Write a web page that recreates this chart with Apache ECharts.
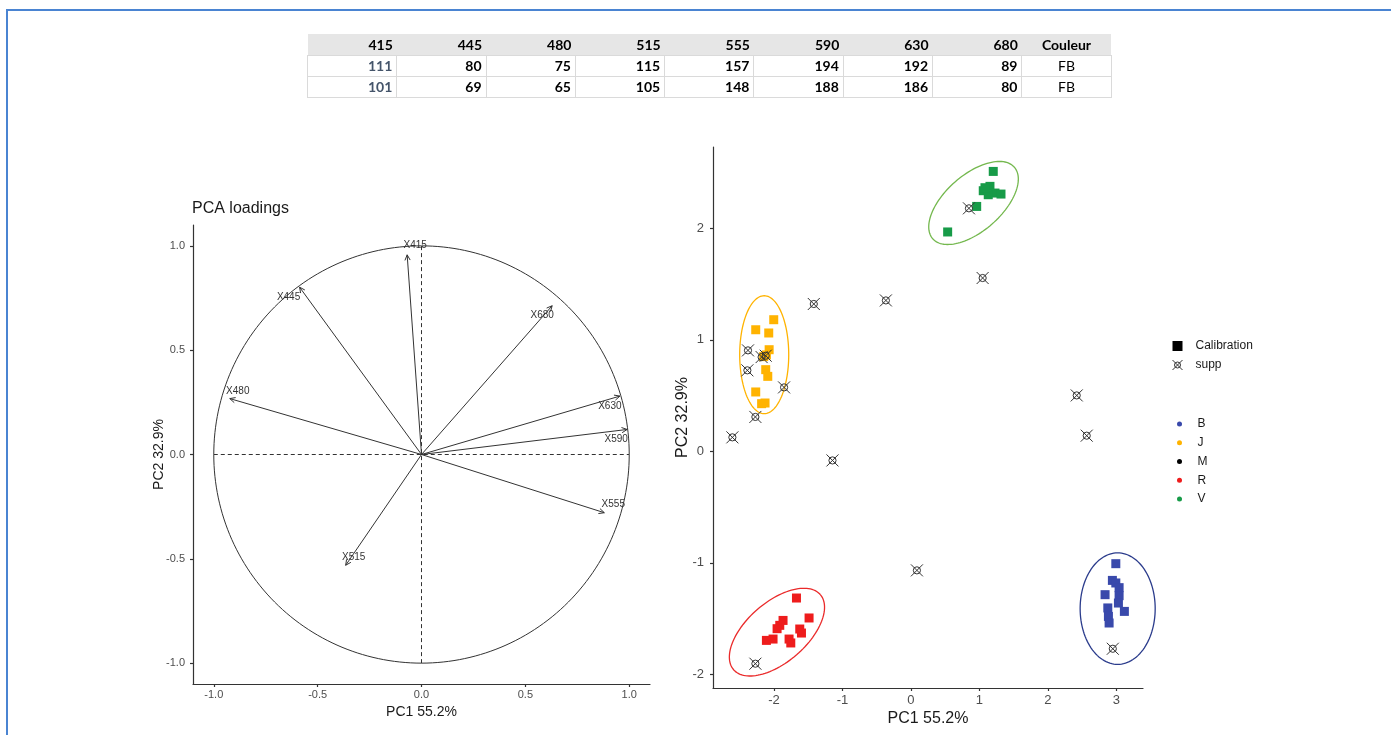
<!DOCTYPE html>
<html>
<head>
<meta charset="utf-8">
<script src="https://cdn.jsdelivr.net/npm/echarts@6/dist/echarts.min.js"></script>
<style>
  html, body { margin: 0; padding: 0; background: #fff; }
  #frame { position: absolute; left: 6px; top: 9px; width: 1385px; height: 726px;
           border-top: 2px solid #4a84d2; border-left: 2px solid #4a84d2; box-sizing: border-box; }
  #chart { position: absolute; left: 0; top: 0; width: 1391px; height: 735px; }
  #tbl { position: absolute; left: 307px; top: 34px; border-collapse: collapse;
         font-family: Lato, "Open Sans", sans-serif; font-weight: bold; font-size: 14px; z-index: 2; }
  #tbl td { width: 89.3px; padding: 0 4px 0 0; box-sizing: border-box; text-align: right; color: #000; }
  #tbl tr.hd td { background: #e6e6e6; height: 21px; }
  #tbl tr.rw td { height: 21px; border: 1px solid #dadada; background: #fff; }
  #tbl td.first { color: #44546a; }
  #tbl td.ctr { text-align: center; padding: 0; font-weight: normal; }
  #tbl tr.hd td.ctr { font-weight: bold; }
</style>
</head>
<body>
<div id="chart"></div>
<div id="frame"></div>
<table id="tbl"></table>
<script>
// ---------------- DATA ----------------
const tableHeader = ['415', '445', '480', '515', '555', '590', '630', '680', 'Couleur'];
const tableRow1 = ['111', '80', '75', '115', '157', '194', '192', '89', 'FB'];
const tableRow2 = ['101', '69', '65', '105', '148', '188', '186', '80', 'FB'];

// PCA loadings (left panel)
const loadNames = ['X415', 'X445', 'X480', 'X515', 'X555', 'X590', 'X630', 'X680'];
const loadPC1 = [-0.069, -0.587, -0.923, -0.365, 0.880, 0.990, 0.955, 0.629];
const loadPC2 = [0.957, 0.802, 0.268, -0.531, -0.279, 0.120, 0.280, 0.713];

// Scores (right panel) - calibration samples by colour group
const calB = [[2.993,-1.007],[2.943,-1.157],[2.993,-1.180],[3.041,-1.222],[2.836,-1.285],[3.041,-1.294],
              [3.031,-1.360],[2.876,-1.404],[3.118,-1.435],[2.885,-1.480],[2.895,-1.539]];
const calJ = [[-2.003,1.181],[-2.266,1.091],[-2.076,1.062],[-2.070,0.912],[-2.150,0.850],[-2.110,0.865],
              [-2.120,0.733],[-2.090,0.673],[-2.266,0.533],[-2.180,0.428],[-2.130,0.434]];
const calM = [];
const calR = [[-1.671,-1.315],[-1.487,-1.494],[-1.867,-1.516],[-1.915,-1.560],[-1.954,-1.590],[-1.623,-1.593],
              [-1.598,-1.629],[-2.013,-1.683],[-2.110,-1.695],[-1.779,-1.683],[-1.754,-1.718]];
const calV = [[1.203,2.511],[1.057,2.338],[1.155,2.377],[1.228,2.317],[1.316,2.308],[1.130,2.302],
              [1.082,2.365],[0.961,2.197],[0.537,1.968]];
// supplementary samples
const supp = [[-2.379,0.906],[-2.388,0.727],[-2.180,0.846],[-2.120,0.858],[-1.852,0.574],[-2.271,0.309],
              [-2.607,0.126],[-1.418,1.322],[-0.365,1.354],[1.048,1.555],[0.848,2.180],[2.422,0.502],
              [2.568,0.141],[-1.145,-0.081],[0.088,-1.067],[-2.271,-1.904],[2.949,-1.770]];

// Confidence ellipses: centre and two conjugate semi-axes (data units)
const ellipseGroups = ['B', 'J', 'R', 'V'];
const ellipseCX = [3.020, -2.142, -1.956, 0.915];
const ellipseCY = [-1.410, 0.867, -1.621, 2.228];
const ellipseU = [[0.548, 0], [0.358, 0], [0.633, 0.337], [0.596, 0.321]];
const ellipseV = [[0, 0.500], [0, 0.529], [-0.287, 0.203], [-0.270, 0.189]];

const loadTicks = [-1, -0.5, 0, 0.5, 1];
const scoreXTicks = [-2, -1, 0, 1, 2, 3];
const scoreYTicks = [-2, -1, 0, 1, 2];

// ---------------- TABLE ----------------
(function buildTable() {
  const t = document.getElementById('tbl');
  const mk = (cells, cls) => {
    const tr = document.createElement('tr'); tr.className = cls;
    cells.forEach((c, i) => {
      const td = document.createElement('td'); td.textContent = c;
      if (i === cells.length - 1) td.className = 'ctr';
      else if (i === 0 && cls === 'rw') td.className = 'first';
      tr.appendChild(td);
    });
    t.appendChild(tr);
  };
  mk(tableHeader, 'hd'); mk(tableRow1, 'rw'); mk(tableRow2, 'rw');
})();

// ---------------- STYLE ----------------
const FONT = '"Liberation Sans", Arial, sans-serif';
const groupColor = { B: '#3949ab', J: '#ffb300', M: '#000000', R: '#ee1c1c', V: '#179b48' };
const ellipseColor = { B: '#2b3c8c', J: '#ffb300', R: '#ea2a2a', V: '#74b84e' };
const labelNudge = { X415: [8, -10], X445: [-11, 10], X480: [8, -7], X515: [8, -8],
                     X555: [9, -8], X590: [-11, 10], X630: [-10, 10], X680: [-10, 10] };
const suppPath = 'path://M0,0L20,20M20,0L0,20M16,10A6,6,0,1,1,4,10A6,6,0,1,1,16,10Z';
const squarePath = 'path://M0,0H10V10H0Z';
const AX = '#333333';
const suppStyle = { color: 'transparent', borderColor: '#333', borderWidth: 1, opacity: 1 };

function axisCommon(ticks, fmt, fontSize, margin) {
  return {
    nameMoveOverlap: false,
    axisLine: { show: true, onZero: false, lineStyle: { color: AX, width: 1.2 } },
    axisTick: { show: true, length: 3, customValues: ticks, lineStyle: { color: AX, width: 1.2 } },
    axisLabel: { customValues: ticks, formatter: fmt, fontSize: fontSize, color: '#4d4d4d',
                 fontFamily: FONT, margin: margin },
    splitLine: { show: false }
  };
}

function calSeries(name, data) {
  return { name: name, type: 'scatter', xAxisIndex: 1, yAxisIndex: 1, data: data,
           symbol: 'rect', symbolSize: 9, itemStyle: { color: groupColor[name], opacity: 1 }, z: 3 };
}

const chart = echarts.init(document.getElementById('chart'));

const option = {
  backgroundColor: '#ffffff',
  animation: false,
  textStyle: { fontFamily: FONT },
  title: {
    text: 'PCA loadings', left: 192, top: 201, padding: 0,
    textStyle: { fontSize: 16, fontWeight: 'normal', color: '#1a1a1a', fontFamily: FONT }
  },
  grid: [
    { left: 193, top: 225, width: 457, height: 459 },
    { left: 713, top: 147, width: 430, height: 541 }
  ],
  xAxis: [
    Object.assign({ type: 'value', gridIndex: 0, min: -1.1, max: 1.1,
      name: 'PC1 55.2%', nameLocation: 'middle', nameGap: 21,
      nameTextStyle: { fontSize: 14, color: '#1a1a1a', fontFamily: FONT } },
      axisCommon(loadTicks, v => v.toFixed(1), 11, 5)),
    Object.assign({ type: 'value', gridIndex: 1, min: -2.89, max: 3.39,
      name: 'PC1 55.2%', nameLocation: 'middle', nameGap: 23,
      nameTextStyle: { fontSize: 16, color: '#1a1a1a', fontFamily: FONT } },
      axisCommon(scoreXTicks, v => String(v), 13, 6))
  ],
  yAxis: [
    Object.assign({ type: 'value', gridIndex: 0, min: -1.1, max: 1.1,
      name: 'PC2 32.9%', nameLocation: 'middle', nameGap: 27,
      nameTextStyle: { fontSize: 14, color: '#1a1a1a', fontFamily: FONT } },
      axisCommon(loadTicks, v => v.toFixed(1), 11, 8)),
    Object.assign({ type: 'value', gridIndex: 1, min: -2.122, max: 2.73,
      name: 'PC2 32.9%', nameLocation: 'middle', nameGap: 22,
      nameTextStyle: { fontSize: 16, color: '#1a1a1a', fontFamily: FONT } },
      axisCommon(scoreYTicks, v => String(v), 13, 9))
  ],
  legend: [
    {
      orient: 'vertical', left: 1172, top: 339, padding: 0, itemGap: 5,
      itemWidth: 26, itemHeight: 10, selectedMode: false,
      textStyle: { fontSize: 12, color: '#1a1a1a', fontFamily: FONT, lineHeight: 14 },
      data: [
        { name: 'Calibration', icon: squarePath, itemStyle: { color: '#000', opacity: 1 } },
        { name: 'supp', icon: suppPath, itemStyle: suppStyle }
      ]
    },
    {
      orient: 'vertical', left: 1177, top: 417, padding: 0, itemGap: 4.75,
      itemWidth: 26, itemHeight: 5, selectedMode: false,
      textStyle: { fontSize: 12, color: '#1a1a1a', fontFamily: FONT, lineHeight: 14 },
      data: ['B', 'J', 'M', 'R', 'V'].map(n => ({ name: n, icon: 'circle',
                                                    itemStyle: { color: groupColor[n], opacity: 1 } }))
    }
  ],
  series: [
    // unit circle + dashed axes
    {
      type: 'custom', xAxisIndex: 0, yAxisIndex: 0, silent: true, z: 1,
      data: [[0, 0]],
      renderItem: function (params, api) {
        const pts = [];
        for (let i = 0; i <= 240; i++) {
          const t = i / 240 * 2 * Math.PI;
          pts.push(api.coord([Math.cos(t), Math.sin(t)]));
        }
        const h0 = api.coord([-1, 0]), h1 = api.coord([1, 0]);
        const v0 = api.coord([0, -1]), v1 = api.coord([0, 1]);
        return { type: 'group', children: [
          { type: 'polyline', shape: { points: pts }, style: { stroke: '#333', lineWidth: 1, fill: null } },
          { type: 'line', shape: { x1: h0[0], y1: h0[1], x2: h1[0], y2: h1[1] },
            style: { stroke: '#333', lineWidth: 1, lineDash: [4, 3] } },
          { type: 'line', shape: { x1: v0[0], y1: v0[1], x2: v1[0], y2: v1[1] },
            style: { stroke: '#333', lineWidth: 1, lineDash: [4, 3] } }
        ] };
      }
    },
    // loading arrows
    {
      type: 'custom', xAxisIndex: 0, yAxisIndex: 0, silent: true, z: 2,
      data: loadPC1.map((x, i) => [x, loadPC2[i]]),
      renderItem: function (params, api) {
        const p0 = api.coord([0, 0]);
        const p1 = api.coord([api.value(0), api.value(1)]);
        const a = Math.atan2(p1[1] - p0[1], p1[0] - p0[0]);
        const L = 6, w = 0.45;
        const hA = [p1[0] - L * Math.cos(a - w), p1[1] - L * Math.sin(a - w)];
        const hB = [p1[0] - L * Math.cos(a + w), p1[1] - L * Math.sin(a + w)];
        const nm = loadNames[params.dataIndex];
        const nd = labelNudge[nm] || [0, 0];
        return { type: 'group', children: [
          { type: 'line', shape: { x1: p0[0], y1: p0[1], x2: p1[0], y2: p1[1] },
            style: { stroke: '#333', lineWidth: 1 } },
          { type: 'polyline', shape: { points: [hA, p1, hB] },
            style: { stroke: '#333', lineWidth: 1, fill: null } },
          { type: 'text', x: p1[0] + nd[0], y: p1[1] + nd[1],
            style: { text: nm, fill: '#333', font: '10px ' + FONT, align: 'center', verticalAlign: 'middle' } }
        ] };
      }
    },
    // ellipses
    {
      type: 'custom', xAxisIndex: 1, yAxisIndex: 1, silent: true, z: 1,
      data: ellipseCX.map((cx, i) => [cx, ellipseCY[i], i]),
      renderItem: function (params, api) {
        const i = api.value(2);
        const cx = api.value(0), cy = api.value(1);
        const u = ellipseU[i], v = ellipseV[i];
        const pts = [];
        for (let k = 0; k <= 120; k++) {
          const t = k / 120 * 2 * Math.PI;
          pts.push(api.coord([cx + u[0] * Math.cos(t) + v[0] * Math.sin(t),
                              cy + u[1] * Math.cos(t) + v[1] * Math.sin(t)]));
        }
        return { type: 'polyline', shape: { points: pts },
                 style: { stroke: ellipseColor[ellipseGroups[i]], lineWidth: 1.3, fill: null } };
      }
    },
    { name: 'Calibration', type: 'scatter', xAxisIndex: 1, yAxisIndex: 1, data: [],
      itemStyle: { color: '#000' } },
    calSeries('B', calB),
    calSeries('J', calJ),
    calSeries('M', calM),
    calSeries('R', calR),
    calSeries('V', calV),
    { name: 'supp', type: 'scatter', xAxisIndex: 1, yAxisIndex: 1, data: supp, symbol: suppPath,
      symbolSize: 12, itemStyle: suppStyle, z: 4 }
  ]
};
chart.setOption(option);
</script>
</body>
</html>
